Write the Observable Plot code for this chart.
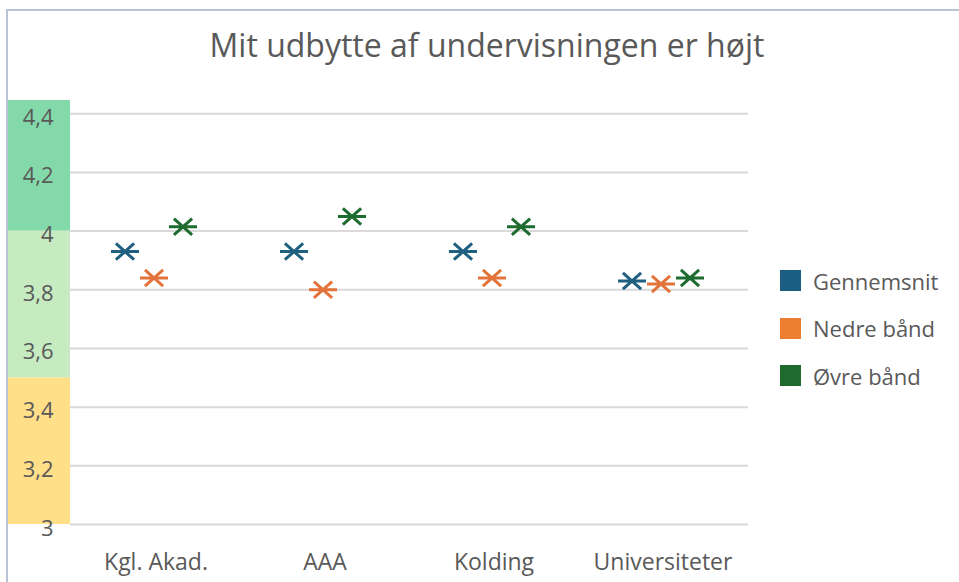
<!DOCTYPE html>
<html>
<head>
<meta charset="utf-8">
<script src="https://cdn.jsdelivr.net/npm/d3@7"></script>
<script src="https://cdn.jsdelivr.net/npm/@observablehq/plot@0.6"></script>
<style>
  body { margin: 0; background: #fff; font-family: "Open Sans", sans-serif; }
  #wrap { position: relative; width: 959px; height: 582px; overflow: hidden; background: #fff; }
  #frame { position: absolute; left: 6px; top: 9px; width: 2000px; height: 2000px;
           border-top: 2px solid #B8C3D6; border-left: 2px solid #B8C3D6; pointer-events: none; }
  #chart { position: absolute; left: 0; top: 0; }
  #title { position: absolute; left: 0; top: 23px; width: 974px; text-align: center;
           font-size: 32px; color: #595959; white-space: nowrap; }
  #legend { position: absolute; left: 780px; top: 257px; }
  .item { display: flex; align-items: center; height: 47.5px; font-size: 22px; color: #595959; }
  .sw { width: 21px; height: 21px; margin-right: 12px; flex: none; }
</style>
</head>
<body>
<div id="wrap">
  <div id="chart"></div>
  <div id="frame"></div>
  <div id="title">Mit udbytte af undervisningen er højt</div>
  <div id="legend"></div>
</div>
<script>
// ---- data ----
const categories = ["Kgl. Akad.", "AAA", "Kolding", "Universiteter"];
const seriesNames = ["Gennemsnit", "Nedre bånd", "Øvre bånd"];
const gennemsnit = [3.93, 3.93, 3.93, 3.83];
const nedreBaand = [3.84, 3.80, 3.84, 3.82];
const oevreBaand = [4.015, 4.05, 4.015, 3.84];
const yTicks = [3, 3.2, 3.4, 3.6, 3.8, 4, 4.2, 4.4];
const bandLow = [3, 3.5, 4];
const bandHigh = [3.5, 4, 4.445];

// ---- styles ----
const seriesColors = ["#1F5F7F", "#E2733A", "#1E6B30"];
const legendColors = ["#1B5E82", "#ED7D31", "#1E6B2D"];
const bandColors = ["#FFDF88", "#C6EBC0", "#84D9AA"];
const seriesDx = [-31, -2, 27];

const valuesBySeries = [gennemsnit, nedreBaand, oevreBaand];
const rows = [];
seriesNames.forEach((s, si) => {
  categories.forEach((c, ci) => rows.push({series: s, si, category: c, value: valuesBySeries[si][ci]}));
});
const bands = bandLow.map((lo, i) => ({lo, hi: bandHigh[i], i}));

// custom marker: horizontal bar + X
const starMarker = {
  draw(ctx, size) {
    const r = Math.sqrt(size / Math.PI);
    const a = r * 0.65, b = r * 0.58;
    ctx.moveTo(-r, 0); ctx.lineTo(r, 0);
    ctx.moveTo(-a, -b); ctx.lineTo(a, b);
    ctx.moveTo(-a, b); ctx.lineTo(a, -b);
  }
};

const plot = Plot.plot({
  width: 959,
  height: 582,
  marginLeft: 70,
  marginRight: 211,
  marginTop: 100,
  marginBottom: 58,
  style: { fontFamily: "Open Sans, sans-serif", color: "#595959", background: "transparent", overflow: "visible" },
  x: { type: "band", domain: categories, padding: 0, label: null },
  y: { domain: [3, 4.445], label: null },
  marks: [
    Plot.rect(bands, { y1: "lo", y2: "hi", fill: d => bandColors[d.i], insetLeft: -62, insetRight: 678 }),
    Plot.ruleY(yTicks, { stroke: "#D9D9D9", strokeWidth: 2 }),
    Plot.axisY({ ticks: yTicks, tickSize: 0, tickPadding: 17, dy: 4, fontSize: 22,
                 tickFormat: d => String(d).replace(".", ","), label: null }),
    Plot.axisX({ tickSize: 0, tickPadding: 29, fontSize: 23, label: null }),
    ...seriesNames.map((s, si) =>
      Plot.dot(rows.filter(d => d.si === si), {
        x: "category", y: "value", dx: seriesDx[si],
        symbol: starMarker, r: 14, fill: "none",
        stroke: seriesColors[si], strokeWidth: 3
      })
    )
  ]
});
document.getElementById("chart").appendChild(plot);

const legend = document.getElementById("legend");
seriesNames.forEach((s, i) => {
  const item = document.createElement("div");
  item.className = "item";
  const sw = document.createElement("div");
  sw.className = "sw";
  sw.style.background = legendColors[i];
  const t = document.createElement("span");
  t.textContent = s;
  item.appendChild(sw); item.appendChild(t);
  legend.appendChild(item);
});
</script>
</body>
</html>
